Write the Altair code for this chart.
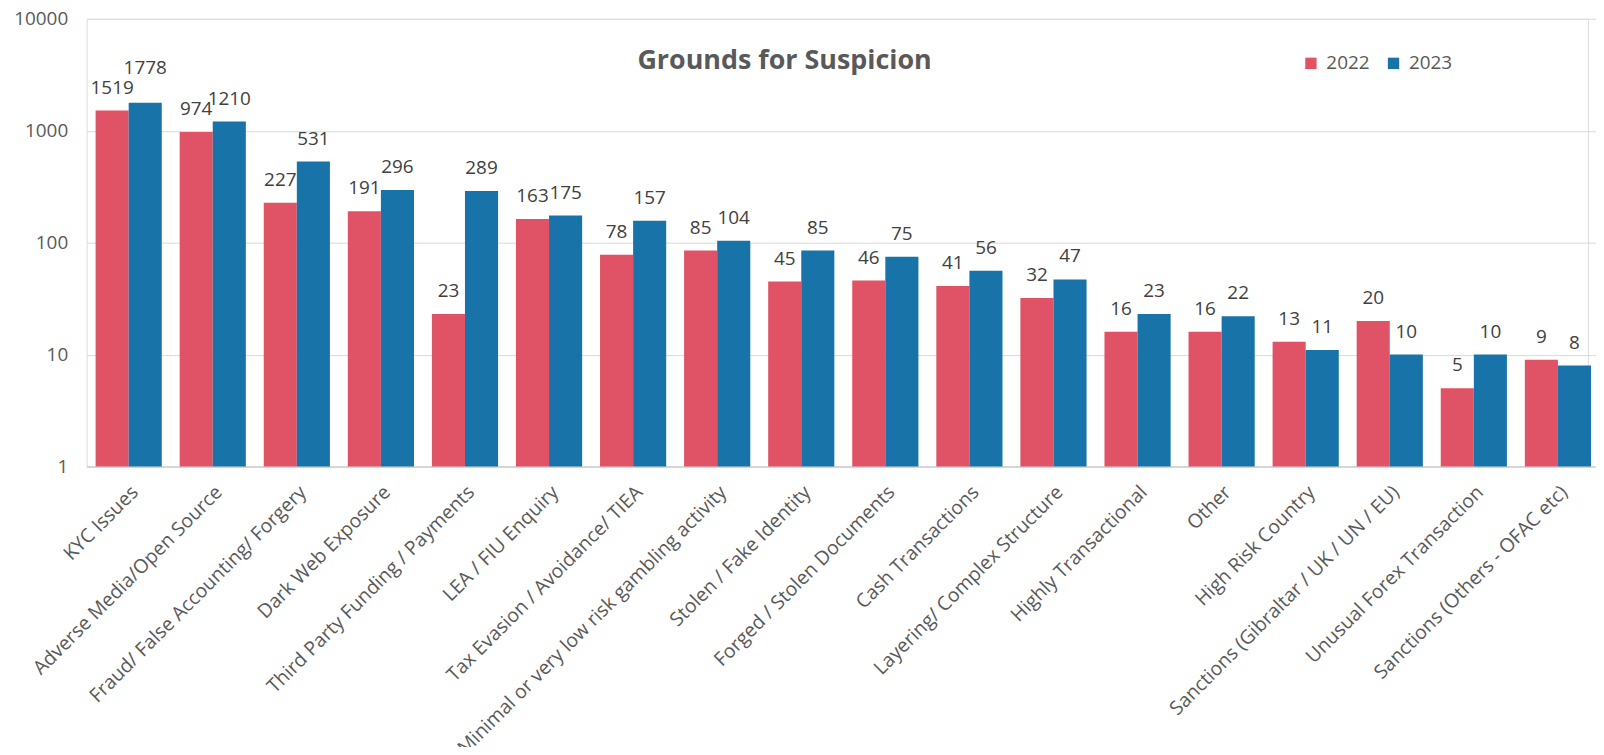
import math
import altair as alt
import pandas as pd

categories = [
    "KYC Issues",
    "Adverse Media/Open Source",
    "Fraud/ False Accounting/ Forgery",
    "Dark Web Exposure",
    "Third Party Funding / Payments",
    "LEA / FIU Enquiry",
    "Tax Evasion / Avoidance/ TIEA",
    "Minimal or very low risk gambling activity",
    "Stolen / Fake Identity",
    "Forged / Stolen Documents",
    "Cash Transactions",
    "Layering/ Complex Structure",
    "Highly Transactional",
    "Other",
    "High Risk Country",
    "Sanctions (Gibraltar / UK / UN / EU)",
    "Unusual Forex Transaction",
    "Sanctions (Others - OFAC etc)",
]
values_2022 = [1519, 974, 227, 191, 23, 163, 78, 85, 45, 46, 41, 32, 16, 16, 13, 20, 5, 9]
values_2023 = [1778, 1210, 531, 296, 289, 175, 157, 104, 85, 75, 56, 47, 23, 22, 11, 10, 10, 8]
years = ["2022", "2023"]
colors = ["#E05366", "#1873A8"]
y_ticks = [1, 10, 100, 1000, 10000]

# layout constants
PLOT_H = 450
PLOT_W = 1521
STEP_PAD = 0.213
FS = 19
DECADE = PLOT_H / 4.0
BAR_W = PLOT_W / (len(categories) - STEP_PAD + 2 * 0.107) * (1 - STEP_PAD) / 2


def text_w(v):
    return len(str(v)) * 0.572 * FS - 2


# simple label collision avoidance: lift the higher label of a pair
# whose texts collide (computed in data space through the log scale)
rows = []
for c, a, b in zip(categories, values_2022, values_2023):
    la, lb = float(a), float(b)
    h_overlap = (text_w(a) + text_w(b)) / 2 - BAR_W
    if h_overlap > 5:
        diff = abs(math.log10(a) - math.log10(b)) * DECADE
        if diff < 20:
            lift = 10 ** ((20 - diff) / DECADE)
            if b >= a:
                lb = b * lift
            else:
                la = a * lift
    rows.append({"category": c, "year": "2022", "value": a, "label_pos": la})
    rows.append({"category": c, "year": "2023", "value": b, "label_pos": lb})
df = pd.DataFrame(rows)

FONT = "Open Sans"
GRAY = "#595959"

base = alt.Chart(df).encode(
    x=alt.X(
        "category:N",
        sort=categories,
        scale=alt.Scale(range=[0, PLOT_W], paddingInner=STEP_PAD, paddingOuter=0.107),
        axis=alt.Axis(
            title=None,
            labelAngle=-45,
            labelFontSize=19.5,
            labelColor=GRAY,
            labelFont=FONT,
            labelLimit=1000,
            labelPadding=16,
            ticks=False,
            domain=True,
            domainColor="#D0D0D0",
            domainWidth=1.5,
            grid=False,
        ),
    ),
    xOffset=alt.XOffset("year:N", sort=years, scale=alt.Scale(paddingInner=0, paddingOuter=0)),
)

bars = base.mark_bar().encode(
    y=alt.Y(
        "value:Q",
        scale=alt.Scale(type="log", domain=[1, 10000]),
        axis=alt.Axis(
            title=None,
            values=y_ticks,
            format="d",
            labelFontSize=FS,
            labelColor=GRAY,
            labelFont=FONT,
            labelPadding=19,
            ticks=False,
            tickSize=0,
            domain=False,
            grid=True,
            gridColor="#D9D9D9",
            gridWidth=1,
        ),
    ),
    y2=alt.datum(1),
    color=alt.Color(
        "year:N",
        sort=years,
        scale=alt.Scale(domain=years, range=colors),
        legend=alt.Legend(
            orient="none",
            legendX=1221,
            legendY=35,
            direction="horizontal",
            title=None,
            symbolType="square",
            symbolSize=130,
            symbolStrokeWidth=0,
            labelFontSize=FS,
            labelColor=GRAY,
            labelFont=FONT,
            labelOffset=6,
            columnPadding=14,
            padding=0,
        ),
    ),
)

labels = base.mark_text(
    baseline="middle", dy=-23, fontSize=FS, color="#404040", font=FONT
).encode(
    y=alt.Y("label_pos:Q"),
    text=alt.Text("value:Q", format="d"),
)

chart = (
    alt.layer(bars, labels)
    .properties(
        width=PLOT_W - 12,
        height=PLOT_H,
        padding={"left": 79, "top": 9, "right": 8, "bottom": 280},
        autosize=alt.AutoSizeParams(type="none"),
        title=alt.TitleParams(
            "Grounds for Suspicion",
            fontSize=27,
            fontWeight="bold",
            color=GRAY,
            font=FONT,
            anchor="middle",
            frame="group",
            dx=-53,
            offset=-65,
        ),
    )
    .configure_view(stroke=None)
    .configure(font=FONT)
)

chart.save("out.html", embed_options={"renderer": "svg", "actions": False})
